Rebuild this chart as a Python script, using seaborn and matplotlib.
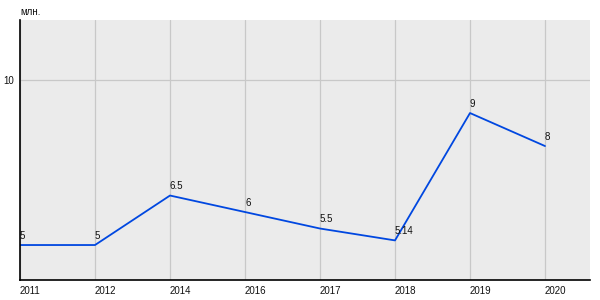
import matplotlib
matplotlib.use("Agg")
import matplotlib.pyplot as plt
import seaborn as sns
import numpy as np
import pandas as pd

years = ["2011", "2012", "2014", "2016", "2017", "2018", "2019", "2020"]
values = [5, 5, 6.5, 6, 5.5, 5.14, 9, 8]
value_labels = ["5", "5", "6.5", "6", "5.5", "5.14", "9", "8"]
unit_label = "млн."

sns.set_theme(style="white")
plt.rcParams['font.family'] = ['Liberation Sans', 'DejaVu Sans']

df = pd.DataFrame({"pos": np.arange(len(years)), "value": values})

fig = plt.figure(figsize=(6, 3), dpi=100)
ax = fig.add_axes([20/600, 20/300, 570/600, 260/300])
ax.set_facecolor("#ebebeb")

sns.lineplot(data=df, x="pos", y="value", ax=ax, color="#0047e0", linewidth=1.3)

ax.set_xlim(0, 7.6)
ax.set_ylim(3.94, 11.82)
ax.set_xticks(df["pos"])
ax.set_xticklabels(years, ha="left", fontsize=7, color="#111111")
ax.set_yticks([10])
ax.set_yticklabels(["10"], fontsize=7, color="#111111")
ax.tick_params(axis="x", length=0, pad=4)
ax.tick_params(axis="y", length=4, width=0.8, color="black", pad=0.5)

ax.grid(True, axis="both", color="#c8c8c8", linewidth=0.9)
ax.set_axisbelow(True)
for s in ["top", "right"]:
    ax.spines[s].set_visible(False)
for s in ["left", "bottom"]:
    ax.spines[s].set_color("black")
    ax.spines[s].set_linewidth(1.2)
ax.set_xlabel("")
ax.set_ylabel("")

for x, y, t in zip(df["pos"], df["value"], value_labels):
    ax.annotate(t, (x, y), xytext=(0, 3), textcoords="offset points",
                ha="left", va="bottom", fontsize=7, color="#111111")

fig.text(20/600, 1 - 12/300, unit_label, ha="left", va="center", fontsize=7, color="#111111")

fig.savefig("out.png", dpi=100)
